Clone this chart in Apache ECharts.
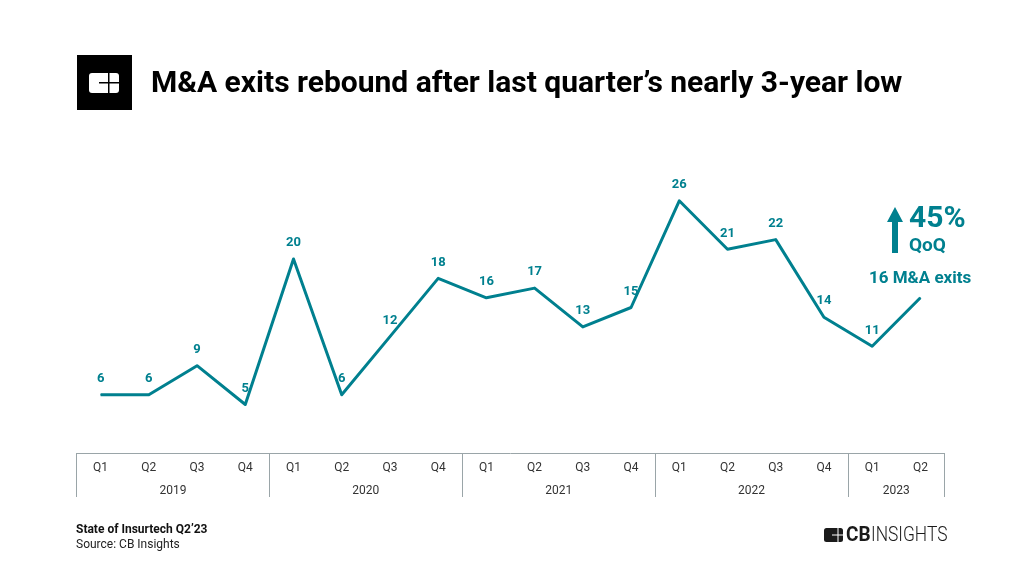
<!DOCTYPE html>
<html>
<head>
<meta charset="utf-8">
<style>
html, body { margin: 0; padding: 0; background: #fff; }
#chart { width: 1024px; height: 576px; }
</style>
<script src="https://cdn.jsdelivr.net/npm/echarts@6/dist/echarts.min.js"></script>
</head>
<body>
<div id="chart"></div>
<script>
var quarters = ['Q1', 'Q2', 'Q3', 'Q4', 'Q1', 'Q2', 'Q3', 'Q4', 'Q1', 'Q2', 'Q3', 'Q4', 'Q1', 'Q2', 'Q3', 'Q4', 'Q1', 'Q2'];
var exits = [6, 6, 9, 5, 20, 6, 12, 18, 16, 17, 13, 15, 26, 21, 22, 14, 11, 16];
var years = ['2019', '2020', '2021', '2022', '2023'];
var yearStarts = [0, 4, 8, 12, 16, 18];

var TEAL = '#00808f';
var FONT = 'Roboto';

var chart = echarts.init(document.getElementById('chart'), null, { renderer: 'canvas' });

// year labels sit in the middle of each bracket
var yearMiddles = years.map(function (y, i) {
    return (yearStarts[i] + yearStarts[i + 1]) / 2;
});

var seriesData = exits.map(function (v, i) {
    // last point is called out by the annotation instead
    if (i === exits.length - 1) {
        return { value: v, label: { show: false } };
    }
    return v;
});

var option = {
    animation: false,
    backgroundColor: '#fff',
    grid: [
        { left: 76.5, right: 79.5, top: 162, bottom: 123 },
        { left: 76.5, right: 79.5, top: 162, bottom: 123 }
    ],
    xAxis: [
        {
            type: 'category',
            gridIndex: 0,
            data: quarters,
            boundaryGap: true,
            axisLine: { show: true, lineStyle: { color: '#9aa5a8', width: 1 } },
            axisTick: { show: false },
            axisLabel: { interval: 0, margin: 9, color: '#333', fontFamily: FONT, fontSize: 12 }
        },
        {
            type: 'value',
            gridIndex: 1,
            min: 0,
            max: 18,
            splitLine: { show: false },
            axisLine: { show: false },
            axisTick: {
                show: true,
                customValues: yearStarts,
                length: 44,
                lineStyle: { color: '#9aa5a8', width: 1 }
            },
            axisLabel: {
                show: true,
                customValues: yearMiddles,
                margin: 32,
                color: '#333',
                fontFamily: FONT,
                fontSize: 12,
                formatter: function (value) {
                    return years[yearMiddles.indexOf(value)];
                }
            }
        }
    ],
    yAxis: [
        { type: 'value', gridIndex: 0, min: 0, max: 30, show: false },
        { type: 'value', gridIndex: 1, min: 0, max: 30, show: false }
    ],
    series: [
        {
            type: 'line',
            xAxisIndex: 0,
            yAxisIndex: 0,
            data: seriesData,
            symbol: 'circle',
            symbolSize: 1,
            showAllSymbol: true,
            itemStyle: { color: TEAL },
            lineStyle: { color: TEAL, width: 3, join: 'round' },
            label: {
                show: true,
                position: 'top',
                distance: 9,
                color: TEAL,
                fontFamily: FONT,
                fontWeight: 'bold',
                fontSize: 13
            }
        }
    ],
    graphic: [
        // header badge
        { type: 'rect', shape: { x: 77, y: 55, width: 55, height: 55 }, style: { fill: '#000' } },
        { type: 'rect', shape: { x: 89, y: 73, width: 30, height: 20, r: 3 }, style: { fill: '#fff' } },
        { type: 'rect', shape: { x: 99, y: 82, width: 20, height: 1.5 }, style: { fill: '#000' } },
        { type: 'rect', shape: { x: 108, y: 73, width: 1.5, height: 20 }, style: { fill: '#000' } },
        {
            type: 'text', x: 151, y: 84,
            style: {
                text: 'M&A exits rebound after last quarter’s nearly 3-year low',
                fill: '#000', font: 'bold 30px Roboto', textVerticalAlign: 'middle'
            }
        },
        // QoQ arrow
        { type: 'polygon', shape: { points: [[895, 207], [903, 222], [887, 222]] }, style: { fill: TEAL } },
        { type: 'rect', shape: { x: 892, y: 221, width: 6, height: 32 }, style: { fill: TEAL } },
        {
            type: 'text', x: 909, y: 219,
            style: { text: '45%', fill: TEAL, font: 'bold 30px Roboto', textVerticalAlign: 'middle' }
        },
        {
            type: 'text', x: 909, y: 246,
            style: { text: 'QoQ', fill: TEAL, font: 'bold 19px Roboto', textVerticalAlign: 'middle' }
        },
        {
            type: 'text', x: 869, y: 279,
            style: { text: '16 M&A exits', fill: TEAL, font: 'bold 17px Roboto', textVerticalAlign: 'middle' }
        },
        // footer
        {
            type: 'text', x: 76, y: 529.5,
            style: { text: 'State of Insurtech Q2’23', fill: '#111', font: 'bold 12px Roboto', textVerticalAlign: 'middle' }
        },
        {
            type: 'text', x: 76, y: 544.5,
            style: { text: 'Source: CB Insights', fill: '#222', font: '12px Roboto', textVerticalAlign: 'middle' }
        },
        // footer logo
        { type: 'rect', shape: { x: 824, y: 528, width: 19, height: 14, r: 2.5 }, style: { fill: '#1a1a1a' } },
        { type: 'rect', shape: { x: 832, y: 534.5, width: 11, height: 1 }, style: { fill: '#fff' } },
        { type: 'rect', shape: { x: 837.5, y: 528, width: 1, height: 14 }, style: { fill: '#fff' } },
        {
            type: 'text', x: 846, y: 536, scaleX: 0.95,
            style: { text: 'CB', fill: '#1a1a1a', font: 'bold 20px Roboto', textVerticalAlign: 'middle' }
        },
        {
            type: 'text', x: 871, y: 536, scaleX: 0.87,
            style: { text: 'INSIGHTS', fill: '#1a1a1a', font: '300 20px Roboto', textVerticalAlign: 'middle' }
        }
    ]
};

chart.setOption(option);
</script>
</body>
</html>
